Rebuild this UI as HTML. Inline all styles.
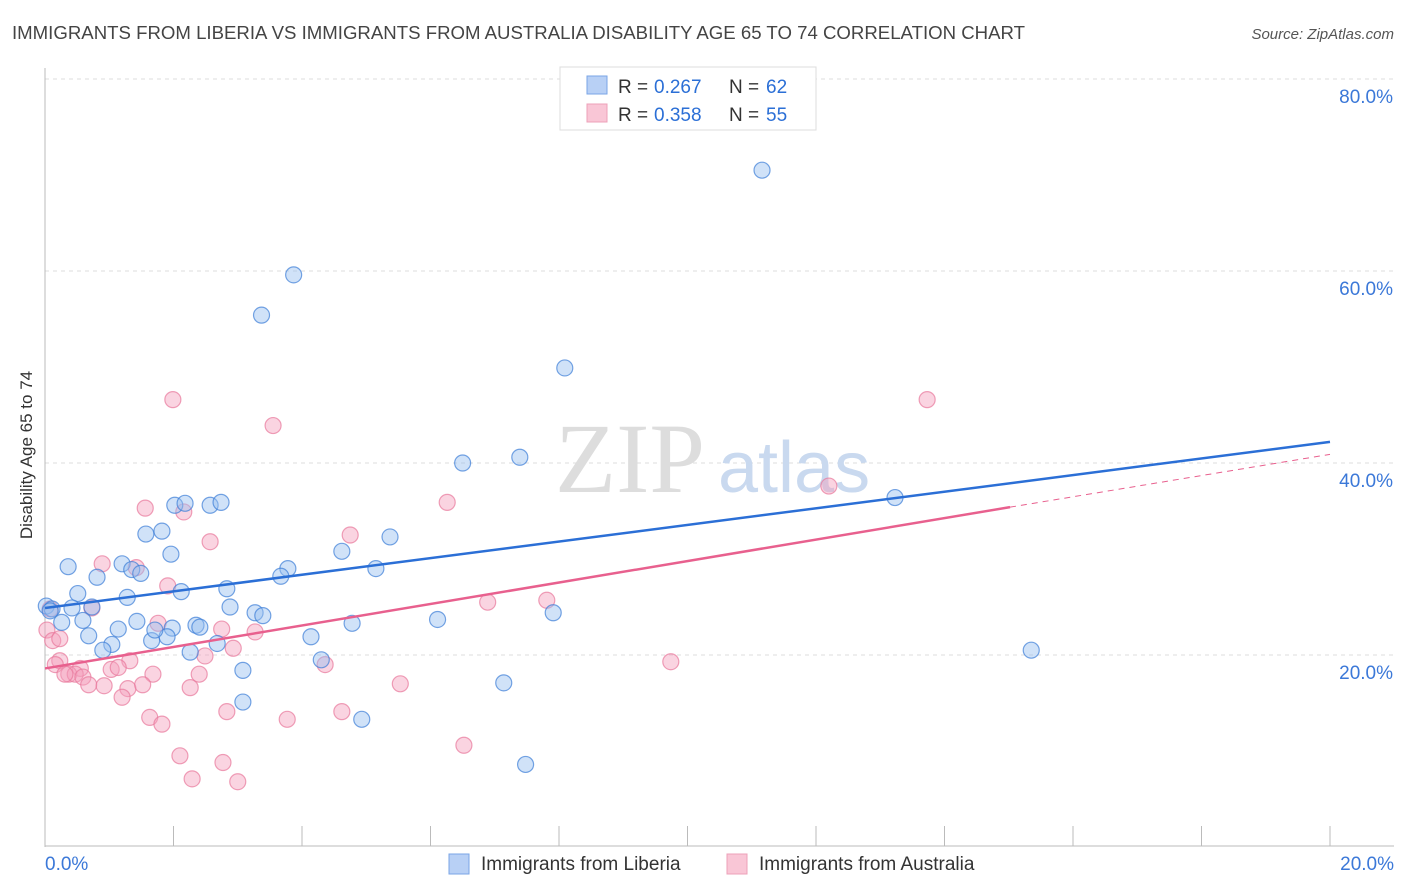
<!DOCTYPE html>
<html><head><meta charset="utf-8"><style>
body{margin:0;background:#fff;font-family:"Liberation Sans",sans-serif;}
</style></head><body>
<svg id="chart" width="1406" height="892" style="position:absolute;left:0;top:0">
<text x="12" y="39" font-size="18" fill="#444" textLength="1013" lengthAdjust="spacingAndGlyphs">IMMIGRANTS FROM LIBERIA VS IMMIGRANTS FROM AUSTRALIA DISABILITY AGE 65 TO 74 CORRELATION CHART</text>
<text x="1394" y="39" font-size="15" fill="#555" font-style="italic" text-anchor="end">Source: ZipAtlas.com</text>
<g id="grid"></g>
<text x="555" y="492" font-size="100" fill="#ddd" font-family="Liberation Serif,serif">ZIP</text>
<text x="718" y="492" font-size="72" fill="#c9d9ef">atlas</text>
<g id="axes"></g>
<g id="pts"></g>
<g id="lines"></g>
<text x="32" y="455" font-size="17" fill="#333" text-anchor="middle" transform="rotate(-90 32 455)">Disability Age 65 to 74</text>
<g>
<rect x="560" y="67" width="256" height="63" fill="#fff" stroke="#ddd"/>
<rect x="587" y="76" width="20" height="18" fill="#b8d0f5" stroke="#7aa5e6"/>
<rect x="587" y="104" width="20" height="18" fill="#f9c6d6" stroke="#eda0b8"/>
<text x="618" y="93" font-size="19" fill="#333">R = </text><text x="654" y="93" font-size="19" fill="#2b6fd6">0.267</text>
<text x="729" y="93" font-size="19" fill="#333">N = </text><text x="766" y="93" font-size="19" fill="#2b6fd6">62</text>
<text x="618" y="121" font-size="19" fill="#333">R = </text><text x="654" y="121" font-size="19" fill="#2b6fd6">0.358</text>
<text x="729" y="121" font-size="19" fill="#333">N = </text><text x="766" y="121" font-size="19" fill="#2b6fd6">55</text>
</g>
<g>
<rect x="449" y="854" width="20" height="20" fill="#b8d0f5" stroke="#7aa5e6"/>
<text x="481" y="870" font-size="19" fill="#333">Immigrants from Liberia</text>
<rect x="727" y="854" width="20" height="20" fill="#f9c6d6" stroke="#eda0b8"/>
<text x="759" y="870" font-size="19" fill="#333">Immigrants from Australia</text>
</g>
</svg>
<script>
const xTicks=[0,20];
const yTicks=[20,40,60,80];
const blueX=[11.16,3.87,3.37,8.09,6.5,7.39,13.23,2.02,2.18,2.57,2.74,1.57,1.82,5.37,1.96,4.62,0.36,1.2,0.81,1.35,1.49,3.78,3.67,5.15,2.83,2.12,0.51,1.28,0.02,0.11,0.42,0.73,2.88,3.27,3.39,0.59,1.43,0.26,6.11,7.91,4.78,2.35,2.41,1.98,1.14,0.68,1.9,1.66,4.14,1.71,1.04,0.9,2.68,2.26,15.35,3.08,4.3,7.14,3.08,4.93,7.48,0.08];
const blueY=[70.5,59.6,55.4,49.9,40,40.6,36.4,35.6,35.8,35.6,35.9,32.6,32.9,32.3,30.5,30.8,29.2,29.5,28.1,28.9,28.5,29,28.2,29,26.9,26.6,26.4,26,25.1,24.8,24.9,25,25,24.4,24.1,23.6,23.5,23.4,23.7,24.4,23.3,23.1,22.9,22.8,22.7,22,21.9,21.5,21.9,22.6,21.1,20.5,21.2,20.3,20.5,18.4,19.5,17.1,15.1,13.3,8.6,24.6];
const pinkX=[1.99,3.55,13.73,6.26,12.2,1.56,2.16,2.57,4.75,0.89,1.42,1.91,0.73,6.89,7.81,1.76,2.75,3.27,2.49,2.93,0.03,0.12,0.23,0.16,0.55,1.32,1.03,1.14,4.36,9.74,0.37,0.47,0.31,0.59,1.68,2.4,0.68,0.92,1.29,1.52,2.26,1.2,5.53,1.63,2.83,1.82,3.77,4.62,6.52,2.1,2.77,2.29,3.0,0.08,0.23];
const pinkY=[46.6,43.9,46.6,35.9,37.6,35.3,34.9,31.8,32.5,29.5,29.1,27.2,24.9,25.5,25.7,23.3,22.7,22.4,19.9,20.7,22.6,21.5,19.4,19,18.6,19.4,18.5,18.7,19,19.3,18,18,18,17.7,18,18,16.9,16.8,16.5,16.9,16.6,15.6,17,13.5,14.1,12.8,13.3,14.1,10.6,9.5,8.8,7.1,6.8,24.8,21.7];
const lineBlue=[24.9,42.2], linePink=[18.6,35.4,40.9], pinkSolidEnd=15.02;
const NS='http://www.w3.org/2000/svg';
const X=v=>45+v/20*1285, Y=v=>847-v*9.6;
function mk(tag,attrs,parent){const e=document.createElementNS(NS,tag);for(const k in attrs)e.setAttribute(k,attrs[k]);document.getElementById(parent).appendChild(e);return e;}
yTicks.forEach(t=>{
 const g=mk('line',{x1:45,x2:1394,y1:Y(t),y2:Y(t),stroke:'#ddd','stroke-dasharray':'4 4'},'grid');
 
 
 const l=mk('text',{x:1393,y:Y(t)+24,'font-size':19,fill:'#3b78d8','text-anchor':'end'},'grid');
 l.textContent=t.toFixed(1)+'%';
 
 
});
const ax=mk('line',{x1:45,x2:45,y1:68,y2:847,stroke:'#bbb'},'axes');


const bx=mk('line',{x1:45,x2:1394,y1:846,y2:846,stroke:'#bbb'},'axes');


for(let i=0;i<=10;i++){const t=mk('line',{x1:X(i*2),x2:X(i*2),y1:826,y2:846,stroke:'#bbb'},'axes');
 
 }
xTicks.forEach((t,i)=>{const l=mk('text',{x:i==0?45:1394,y:870,'font-size':19,fill:'#3b78d8','text-anchor':i==0?'start':'end'},'axes');
 l.textContent=t.toFixed(1)+'%';
 
 });
pinkX.forEach((x,i)=>{const c=mk('circle',{cx:X(x),cy:Y(pinkY[i]),r:8,fill:'rgba(245,160,188,0.45)',stroke:'rgba(232,120,155,0.7)','stroke-width':1.2},'pts');
 
 });
blueX.forEach((x,i)=>{const c=mk('circle',{cx:X(x),cy:Y(blueY[i]),r:8,fill:'rgba(150,190,240,0.45)',stroke:'rgba(60,125,215,0.7)','stroke-width':1.2},'pts');
 
 });
const bl=mk('line',{x1:X(0),y1:Y(lineBlue[0]),x2:X(20),y2:Y(lineBlue[1]),stroke:'#2b6fd6','stroke-width':2.5},'lines');


const pl=mk('line',{x1:X(0),y1:Y(linePink[0]),x2:X(pinkSolidEnd),y2:Y(linePink[1]),stroke:'#e8608e','stroke-width':2.5},'lines');


const pd=mk('line',{x1:X(pinkSolidEnd),y1:Y(linePink[1]),x2:X(20),y2:Y(linePink[2]),stroke:'#e8608e','stroke-width':1,'stroke-dasharray':'6 5'},'lines');


</script>
</body></html>
